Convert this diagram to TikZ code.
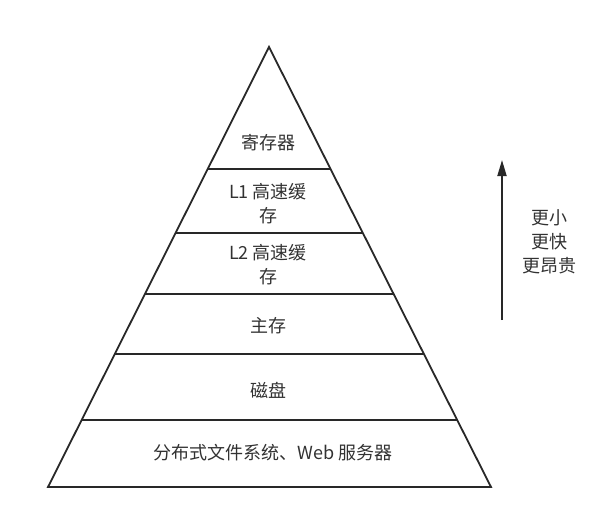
\documentclass[tikz,border=0pt]{standalone}
\usepackage{fontspec}
\usepackage{tikz}
\usetikzlibrary{calc,arrows.meta}
\newfontfamily\cjk{Noto Sans CJK SC}
\definecolor{linegray}{RGB}{40,40,40}
\definecolor{textgray}{RGB}{50,50,50}

\begin{document}
\begin{tikzpicture}[x=1pt,y=-1pt,
    layer/.style={font=\cjk\fontsize{18}{24}\selectfont, text=textgray, align=center},
    edge/.style={draw=linegray, line width=1.8pt}]
			\useasboundingbox (0,0) rectangle (616,519);
			
			% pyramid corners
			\coordinate (top) at (269,47);
			\coordinate (bl) at (48,487);
			\coordinate (br) at (491,487);
			\draw[edge] (top) -- (bl) -- (br) -- cycle;
			
			% layer borders
			\foreach \t [count=\i] in {0.2773, 0.4227, 0.5614, 0.6977, 0.8477} {
				\coordinate (l\i) at ($(top)!\t!(bl)$);
				\coordinate (r\i) at ($(top)!\t!(br)$);
				\draw[edge] (l\i) -- (r\i);
			}
			
			% layer labels
			\node[layer] (reg) at (268,143) {寄存器};
			\node[layer] (cacheA) at (268,204) {L1 高速缓\\存};
			\node[layer] (cacheB) at (268,265) {L2 高速缓\\存};
			\node[layer] (mem) at (268,326) {主存};
			\node[layer] (disk) at (268,390) {磁盘};
			\node[layer] (dfs) at (273,453) {分布式文件系统、Web 服务器};
			
			% side arrow and note
			\coordinate (up0) at (502,320);
			\coordinate (up1) at (502,160);
			\draw[edge, -{Triangle[length=16pt,width=9pt]}] (up0) -- (up1);
			\node[layer] (note) at (549,242) {更小\\更快\\更昂贵};
		\end{tikzpicture}
\end{document}
